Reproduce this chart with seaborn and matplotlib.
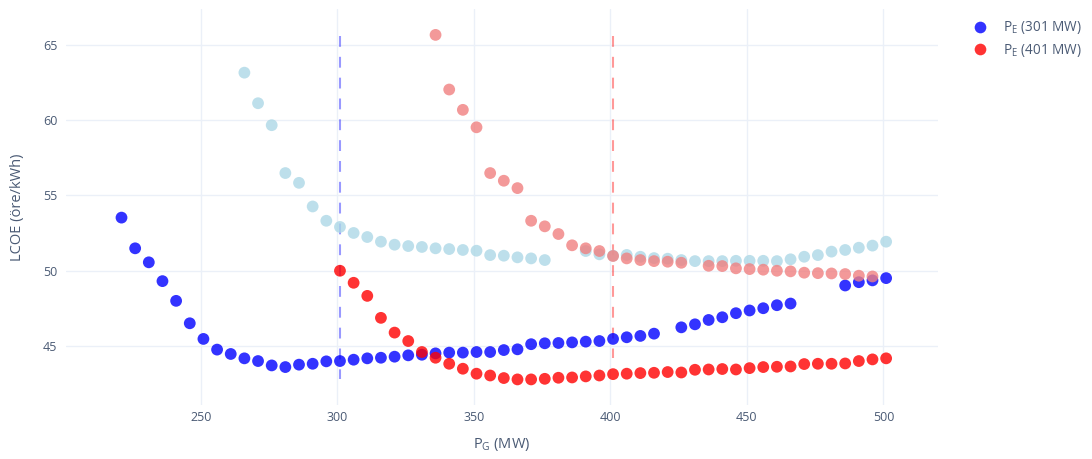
import matplotlib
matplotlib.use("Agg")
import matplotlib.pyplot as plt
from matplotlib.lines import Line2D
import seaborn as sns
import pandas as pd

# ---------------- data ----------------
pe301_x = [221, 226, 231, 236, 241, 246, 251, 256, 261, 266, 271, 276, 281, 286, 291, 296,
           301, 306, 311, 316, 321, 326, 331, 336, 341, 346, 351, 356, 361, 366, 371, 376,
           381, 386, 391, 396, 401, 406, 411, 416,
           426, 431, 436, 441, 446, 451, 456, 461, 466,
           486, 491, 496, 501]
pe301_y = [53.53, 51.49, 50.56, 49.31, 48.00, 46.51, 45.47, 44.76, 44.47, 44.18,
           44.00, 43.71, 43.60, 43.76, 43.82, 43.98, 44.00, 44.09, 44.18, 44.22,
           44.29, 44.38, 44.42, 44.51, 44.56, 44.56, 44.60, 44.60, 44.73, 44.78,
           45.12, 45.18, 45.20, 45.24, 45.29, 45.33, 45.47, 45.58, 45.67, 45.82,
           46.24, 46.44, 46.73, 46.91, 47.18, 47.36, 47.51, 47.71, 47.82,
           49.02, 49.24, 49.36, 49.51]

pe401_x = list(range(301, 502, 5))
pe401_y = [50.00, 49.20, 48.33, 46.87, 45.89, 45.33, 44.60, 44.22, 43.82, 43.49,
           43.16, 43.04, 42.87, 42.78, 42.78, 42.82, 42.89, 42.91, 42.98, 43.04,
           43.13, 43.16, 43.20, 43.22, 43.27, 43.24, 43.42, 43.44, 43.47, 43.44,
           43.53, 43.60, 43.62, 43.64, 43.80, 43.82, 43.82, 43.84, 44.00, 44.11,
           44.18]

pe301_faded_x = [266, 271, 276, 281, 286, 291, 296, 301, 306, 311, 316, 321, 326, 331,
                 336, 341, 346, 351, 356, 361, 366, 371, 376,
                 391, 396, 401, 406, 411, 416, 421, 426, 431, 436, 441, 446, 451, 456,
                 461, 466, 471, 476, 481, 486, 491, 496, 501]
pe301_faded_y = [63.16, 61.13, 59.67, 56.49, 55.84, 54.27, 53.32, 52.91, 52.51, 52.24,
                 51.93, 51.73, 51.64, 51.58, 51.49, 51.44, 51.38, 51.33, 51.04, 51.00,
                 50.89, 50.82, 50.71,
                 51.31, 51.09, 51.00, 51.05, 50.93, 50.84, 50.80, 50.71, 50.64, 50.64,
                 50.64, 50.66, 50.66, 50.66, 50.64, 50.76, 50.93, 51.04, 51.27, 51.38,
                 51.53, 51.67, 51.93]

pe401_faded_x = [336, 341, 346, 351, 356, 361, 366, 371, 376, 381, 386, 391, 396, 401,
                 406, 411, 416, 421, 426,
                 436, 441, 446, 451, 456, 461, 466, 471, 476, 481, 486, 491, 496]
pe401_faded_y = [65.67, 62.04, 60.69, 59.53, 56.49, 55.98, 55.49, 53.32, 52.95, 52.44,
                 51.69, 51.49, 51.31, 50.98, 50.82, 50.71, 50.64, 50.60, 50.53,
                 50.33, 50.31, 50.16, 50.11, 50.07, 50.00, 49.96, 49.87, 49.84, 49.82,
                 49.78, 49.67, 49.62]

series_labels = [r"P$_\mathregular{E}$ (301 MW)", r"P$_\mathregular{E}$ (401 MW)"]
vline_x = [301, 401]
vline_top = [65.6, 65.6]
vline_bottom = [42.8, 44.2]
x_ticks = [250, 300, 350, 400, 450, 500]
y_ticks = [45, 50, 55, 60, 65]

# ---------------- style ----------------
sns.set_theme(style="white")
plt.rcParams["font.family"] = ["Open Sans", "DejaVu Sans"]
plt.rcParams["mathtext.fontset"] = "custom"
plt.rcParams["mathtext.rm"] = "Open Sans"

text_color = "#4a5a74"
grid_color = "#EBF0F8"

fig = plt.figure(figsize=(10.92, 4.59), dpi=100)
ax = fig.add_axes([0.06, 1 - 405 / 459, 0.859 - 0.06, (405 - 9) / 459])

dark = pd.DataFrame({
    "x": pe301_x + pe401_x,
    "y": pe301_y + pe401_y,
    "series": [series_labels[0]] * len(pe301_x) + [series_labels[1]] * len(pe401_x),
})
light = pd.DataFrame({
    "x": pe301_faded_x + pe401_faded_x,
    "y": pe301_faded_y + pe401_faded_y,
    "series": ["f301"] * len(pe301_faded_x) + ["f401"] * len(pe401_faded_x),
})

msize = 72
sns.scatterplot(data=dark, x="x", y="y", hue="series",
                palette={series_labels[0]: "blue", series_labels[1]: "red"},
                s=msize, alpha=0.8, linewidth=0, legend=False, ax=ax, zorder=3)
sns.scatterplot(data=light, x="x", y="y", hue="series",
                palette={"f301": "lightblue", "f401": "lightcoral"},
                s=msize, alpha=0.8, linewidth=0, legend=False, ax=ax, zorder=4)

for xv, top, bot, col in zip(vline_x, vline_top, vline_bottom, ["blue", "red"]):
    ax.plot([xv, xv], [top, bot], color=col, alpha=0.4, lw=1.5,
            dashes=(5.2, 4.8), zorder=2)

ax.set_xlim(200.5, 520)
ax.set_ylim(41.08, 67.39)
ax.set_xticks(x_ticks)
ax.set_yticks(y_ticks)
ax.grid(True, color=grid_color, lw=1)
ax.set_axisbelow(True)
for sp in ax.spines.values():
    sp.set_visible(False)
ax.tick_params(axis="both", length=0, labelsize=9, colors=text_color)
ax.tick_params(axis="x", pad=4)
ax.tick_params(axis="y", pad=6)
ax.set_xlabel(r"P$_\mathregular{G}$ (MW)", fontsize=10.5, color=text_color, labelpad=9)
ax.set_ylabel("LCOE (öre/kWh)", fontsize=10.5, color=text_color, labelpad=13)

handles = [Line2D([], [], marker="o", ls="", color=c, alpha=0.8, markersize=8.4, mew=0)
           for c in ["blue", "red"]]
leg = fig.legend(handles, series_labels, loc="upper left",
                 bbox_to_anchor=(966 / 1092, 1 - 14 / 459), frameon=False,
                 fontsize=9.8, labelspacing=0.4, handletextpad=1.1, handlelength=1.2,
                 borderaxespad=0)
for t in leg.get_texts():
    t.set_color(text_color)

fig.savefig("out.png", dpi=100)
